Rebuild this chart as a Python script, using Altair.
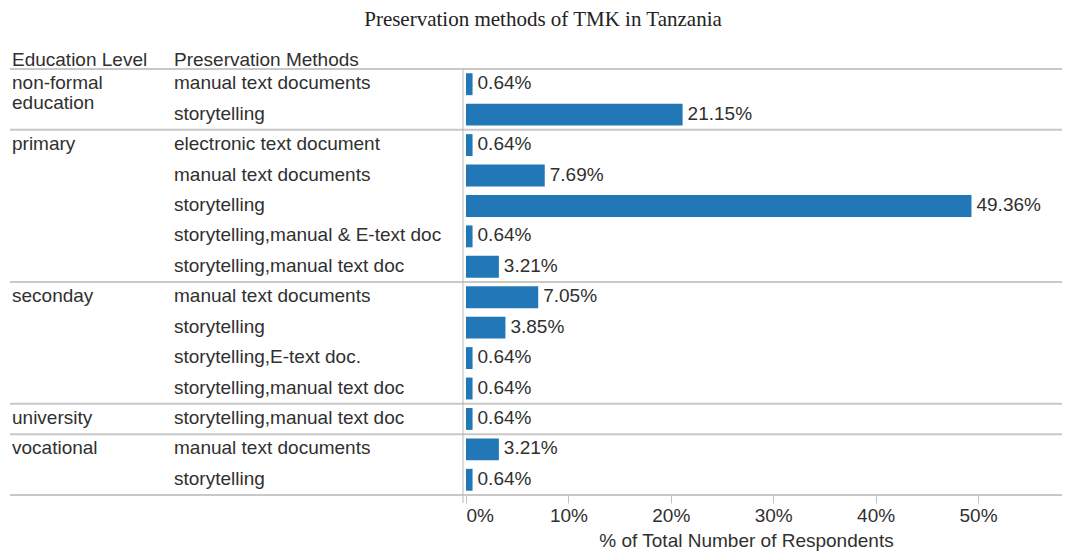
import altair as alt
import pandas as pd

title_text = "Preservation methods of  TMK in Tanzania"
header_edu = "Education Level"
header_method = "Preservation Methods"
x_title = "% of Total Number of Respondents"

edu_levels = ["non-formal education", "non-formal education",
              "primary", "primary", "primary", "primary", "primary",
              "seconday", "seconday", "seconday", "seconday",
              "university",
              "vocational", "vocational"]
methods = ["manual text documents", "storytelling",
           "electronic text document", "manual text documents", "storytelling",
           "storytelling,manual & E-text doc", "storytelling,manual text doc",
           "manual text documents", "storytelling", "storytelling,E-text doc.",
           "storytelling,manual text doc",
           "storytelling,manual text doc",
           "manual text documents", "storytelling"]
pct = [0.64, 21.15, 0.64, 7.69, 49.36, 0.64, 3.21,
       7.05, 3.85, 0.64, 0.64, 0.64, 3.21, 0.64]
x_ticks = [0, 10, 20, 30, 40, 50]
edu_display = {"non-formal education": ["non-formal", "education"]}

rows = pd.DataFrame({
    "row": list(range(len(methods))),
    "edu": edu_levels,
    "method": methods,
    "pct": pct,
    "label": [f"{p:.2f}%" for p in pct],
})

# group first rows and separators
groups = []
seps = [-0.5]
for i, e in enumerate(edu_levels):
    if i == 0 or edu_levels[i - 1] != e:
        groups.append({"row": i, "lines": edu_display.get(e, [e])})
    if i == len(edu_levels) - 1 or edu_levels[i + 1] != e:
        seps.append(i + 0.5)
groups_df = pd.DataFrame(groups)
seps_df = pd.DataFrame({"sep": seps})

W, H = 1052, 426
FONT = "Liberation Sans"
TXT = "#303030"
FS = 19

yscale = alt.Scale(domain=[-0.5, len(methods) - 0.5], reverse=True, nice=False, zero=False)
xscale = alt.Scale(domain=[0, 58.2], range=[456, W], nice=False, zero=False)

base = alt.Chart(rows)

bars = base.transform_calculate(
    y0="datum.row - 0.36", y1="datum.row + 0.36"
).mark_rect(color="#2277b6").encode(
    x=alt.X("pct:Q", scale=xscale, axis=alt.Axis(
        values=x_ticks, labelExpr="datum.value + '%'", domain=False, grid=False,
        ticks=True, tickColor="#c0c0c0", tickSize=8, tickWidth=1,
        labelFont=FONT, labelFontSize=FS, labelColor=TXT, labelPadding=3,
        labelFlush=True, title=x_title, titleFont=FONT, titleFontSize=FS,
        titleFontWeight="normal", titleColor=TXT, titleX=736, titlePadding=6)),
    x2=alt.datum(0),
    y=alt.Y("y0:Q", scale=yscale, axis=None),
    y2="y1:Q",
)

values = base.mark_text(align="left", baseline="top", dy=-10, dx=5,
                        font=FONT, fontSize=FS, color=TXT).encode(
    x=alt.X("pct:Q", scale=xscale),
    y=alt.Y("row:Q", scale=yscale, axis=None),
    text="label:N",
)

method_text = base.mark_text(align="left", baseline="top", dy=-10,
                             font=FONT, fontSize=FS, color=TXT).encode(
    x=alt.value(164),
    y=alt.Y("row:Q", scale=yscale, axis=None),
    text="method:N",
)

edu_text = alt.Chart(groups_df).mark_text(align="left", baseline="top", dy=-10,
                                          lineHeight=20, font=FONT, fontSize=FS,
                                          color=TXT).encode(
    x=alt.value(2),
    y=alt.Y("row:Q", scale=yscale, axis=None),
    text="lines",
)

sep_rules = alt.Chart(seps_df).mark_rule(color="#c8c8c8", strokeWidth=2).encode(
    x=alt.value(0), x2=alt.value(W),
    y=alt.Y("sep:Q", scale=yscale, axis=None),
)

vline = alt.Chart(pd.DataFrame({"v": [0]})).mark_rule(color="#b8b8b8", strokeWidth=1).encode(
    x=alt.value(453), y=alt.value(0), y2=alt.value(H + 8),
)

hdr = pd.DataFrame({"edu_h": [header_edu], "meth_h": [header_method], "title": [title_text]})
hdr_edu = alt.Chart(hdr).mark_text(align="left", baseline="middle", font=FONT,
                                   fontSize=FS, color=TXT).encode(
    x=alt.value(2), y=alt.value(-9), text="edu_h:N")
hdr_meth = alt.Chart(hdr).mark_text(align="left", baseline="middle", font=FONT,
                                    fontSize=FS, color=TXT).encode(
    x=alt.value(164), y=alt.value(-9), text="meth_h:N")
title = alt.Chart(hdr).mark_text(align="center", baseline="middle",
                                 font="Liberation Serif", fontSize=21,
                                 color="#222222").encode(
    x=alt.value(533), y=alt.value(-49), text="title:N")

chart = alt.layer(
    sep_rules, vline, bars, values, method_text, edu_text, hdr_edu, hdr_meth, title
).properties(
    width=W, height=H,
    autosize=alt.AutoSizeParams(type="none"),
    padding={"left": 2, "top": 61, "right": 6, "bottom": 56},
    background="white",
).configure_view(stroke=None)

chart.save("out.html", embed_options={"renderer": "svg", "actions": False})
